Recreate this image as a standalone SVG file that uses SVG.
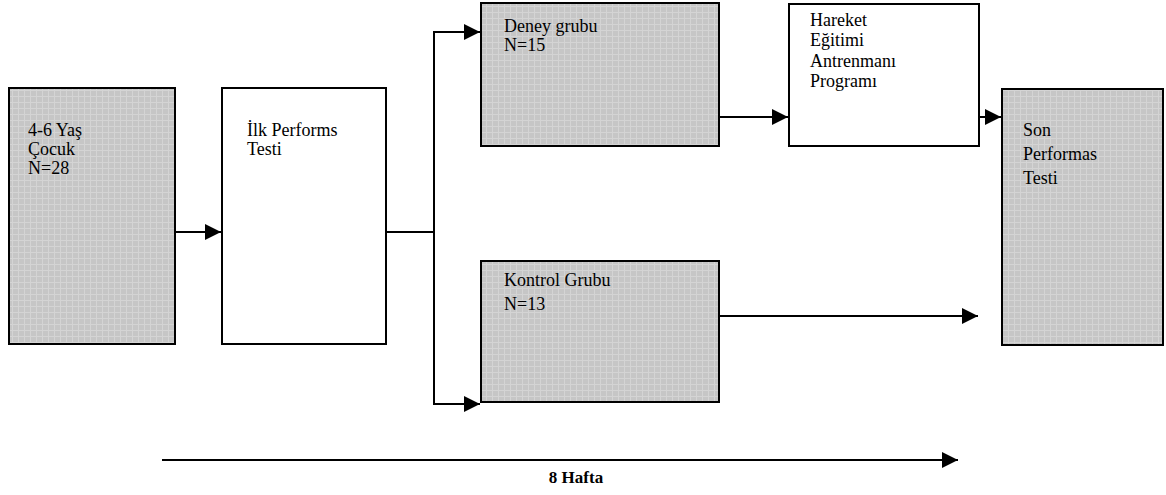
<svg xmlns="http://www.w3.org/2000/svg" width="1166" height="495" viewBox="0 0 1166 495">
<style>
.box{stroke:#000;stroke-width:2}
.g{fill:url(#tex)}
.w{fill:#fff}
text{font-family:'Liberation Serif','Times New Roman','DejaVu Serif',serif;font-size:18px;fill:#000}
.b{font-weight:bold;font-size:17px}
.c{fill:none;stroke:#000;stroke-width:2}
</style>
<defs>
<pattern id="tex" width="6" height="6" patternUnits="userSpaceOnUse">
<rect width="6" height="6" fill="#c6c6c6"/>
<path d="M0 0.5H6M0.5 0V6" stroke="#d4d4d4" stroke-width="1"/>
</pattern>
<marker id="ah2" viewBox="0 0 16 16" markerWidth="16" markerHeight="16" refX="16" refY="8" orient="auto" markerUnits="userSpaceOnUse">
<path d="M0 0L16 8L0 16Z" fill="#000"/>
</marker>
</defs>
<g id="connectors">
<path class="c" d="M175 232H221" marker-end="url(#ah2)"/>
<path class="c" d="M386 232H434V32H480" marker-end="url(#ah2)"/>
<path class="c" d="M434 232V404H480" marker-end="url(#ah2)"/>
<path class="c" d="M719 117H788" marker-end="url(#ah2)"/>
<path class="c" d="M979 117H1001" marker-end="url(#ah2)"/>
<path class="c" d="M719 316H978" marker-end="url(#ah2)"/>
<path class="c" d="M162 460H958" marker-end="url(#ah2)"/>
</g>
<g id="n1">
<rect class="box g" x="9" y="88" width="166" height="256"/>
<text x="28" y="136">4-6 Yaş</text>
<text x="28" y="155">Çocuk</text>
<text x="28" y="174">N=28</text>
</g>
<g id="n2">
<rect class="box w" x="222" y="88" width="164" height="256"/>
<text x="247" y="136">İlk Performs</text>
<text x="247" y="155">Testi</text>
</g>
<g id="n3">
<rect class="box g" x="481" y="3" width="238" height="143"/>
<text x="504" y="32">Deney grubu</text>
<text x="504" y="51">N=15</text>
</g>
<g id="n4">
<rect class="box w" x="789" y="4" width="190" height="142"/>
<text x="810" y="26">Hareket</text>
<text x="810" y="46">Eğitimi</text>
<text x="810" y="67">Antrenmanı</text>
<text x="810" y="87">Programı</text>
</g>
<g id="n5">
<rect class="box g" x="1002" y="89" width="161" height="256"/>
<text x="1023" y="136">Son</text>
<text x="1023" y="160">Performas</text>
<text x="1023" y="184">Testi</text>
</g>
<g id="n6">
<rect class="box g" x="481" y="261" width="238" height="141"/>
<text x="504" y="286">Kontrol Grubu</text>
<text x="504" y="310">N=13</text>
</g>
<text class="b" x="576" y="483" text-anchor="middle">8 Hafta</text>
</svg>
